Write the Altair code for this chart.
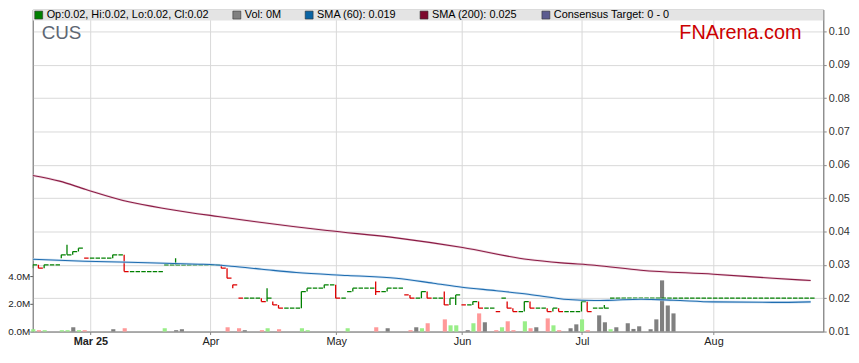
import altair as alt
import pandas as pd

# ---------------- data ----------------
FIRST_DATE = "2025-02-14"          # first trading day shown (index -1)

# daily close, one per weekday, from 2025-02-14 onward
CLOSE = [
    0.029, 0.030, 0.029, 0.030, 0.030, 0.030, 0.033, 0.033, 0.034, 0.035,   # -1..8
    0.032, 0.032, 0.032, 0.032, 0.032, 0.033, 0.033, 0.028, 0.028, 0.028,   # 9..18
    0.028, 0.028, 0.028, 0.028, 0.030, 0.030, 0.030, 0.030, 0.030, 0.030,   # 19..28
    0.030, 0.030, 0.030, 0.030, 0.029, 0.026, 0.024, 0.020, 0.020, 0.020,   # 29..38
    0.020, 0.019, 0.020, 0.018, 0.017, 0.017, 0.017, 0.017, 0.022, 0.023,   # 39..48
    0.023, 0.023, 0.024, 0.024, 0.020, 0.020, 0.022, 0.023, 0.023, 0.023,   # 49..58
    0.023, 0.022, 0.022, 0.023, 0.023, 0.023, 0.021, 0.020, 0.020, 0.022,   # 59..68
    0.020, 0.020, 0.020, 0.018, 0.020, 0.021, 0.018, 0.018, 0.019, 0.017,   # 69..78
    0.017, 0.017, 0.016, 0.020, 0.017, 0.016, 0.016, 0.019, 0.017, 0.017,   # 79..88
    0.017, 0.016, 0.017, 0.016, 0.016, 0.016, 0.016, 0.019, 0.016, 0.017,   # 89..98
    0.017, 0.017, 0.020, 0.020, 0.020, 0.020, 0.020, 0.020, 0.020, 0.020,   # 99..108
    0.020, 0.020, 0.020, 0.020, 0.020, 0.020, 0.020, 0.020, 0.020, 0.020,   # 109..118
    0.020, 0.020, 0.020, 0.020, 0.020, 0.020, 0.020, 0.020, 0.020, 0.020,   # 119..128
    0.020, 0.020, 0.020, 0.020, 0.020, 0.020, 0.020, 0.020,                 # 129..136
]

# intraday ranges (vertical strokes)
VERT_DAY = [0, 1, 2, 5, 6, 7, 8, 14, 16, 25, 33, 34, 35, 40, 41, 42, 43,
            47, 48, 51, 53, 56, 60, 62, 66, 68, 69, 72, 73, 74, 77, 78,
            83, 84, 86, 87, 90, 91, 92, 96, 97, 100]
VERT_LO = [0.029, 0.029, 0.029, 0.032, 0.033, 0.033, 0.034, 0.032, 0.028, 0.030,
           0.029, 0.026, 0.023, 0.019, 0.019, 0.018, 0.017,
           0.017, 0.022, 0.023, 0.020, 0.022, 0.021, 0.022, 0.020, 0.020, 0.020,
           0.018, 0.018, 0.018, 0.018, 0.017,
           0.017, 0.016, 0.016, 0.017, 0.016, 0.016, 0.016, 0.016, 0.016, 0.017]
VERT_HI = [0.030, 0.030, 0.030, 0.033, 0.036, 0.034, 0.035, 0.033, 0.033, 0.032,
           0.030, 0.029, 0.024, 0.020, 0.023, 0.019, 0.018,
           0.022, 0.023, 0.024, 0.024, 0.023, 0.025, 0.023, 0.021, 0.022, 0.022,
           0.022, 0.020, 0.021, 0.019, 0.019,
           0.019, 0.017, 0.019, 0.019, 0.017, 0.017, 0.017, 0.019, 0.019, 0.018]

# volume (millions) and direction: u = up, d = down, n = unchanged
VOL_DAY = [0, 1, 2, 5, 6, 7, 8, 9,
           14, 16, 23, 25, 26,
           34, 36, 37, 40, 41, 43,
           47, 48, 55, 60, 62,
           66, 67, 68, 69,
           72, 73, 74, 76, 77, 78, 79,
           81, 82, 83, 84, 86, 87, 88,
           90, 91, 92, 94, 95, 96, 97,
           99, 100, 101, 102,
           104, 105, 106, 108, 109, 110, 111, 112]
VOL_M = [0.17, 0.10, 0.10, 0.10, 0.10, 0.31, 0.10, 0.10,
         0.17, 0.24, 0.24, 0.10, 0.17,
         0.31, 0.24, 0.10, 0.10, 0.24, 0.17,
         0.24, 0.10, 0.24, 0.31, 0.24,
         0.10, 0.31, 0.24, 0.60,
         0.88, 0.45, 0.45, 0.10, 0.60, 1.31, 0.67,
         0.10, 0.31, 0.74, 0.10, 0.74, 0.24, 0.31,
         0.95, 0.45, 0.10, 0.24, 0.52, 0.88, 0.10,
         1.17, 0.67, 0.17, 0.31,
         0.60, 0.19, 0.38, 0.17, 0.88, 3.69, 1.88, 1.31]
VOL_DIR = ["u", "d", "u", "u", "u", "n", "u", "d",
           "n", "d", "u", "n", "n",
           "d", "d", "n", "d", "u", "d",
           "u", "u", "u", "d", "n",
           "d", "n", "u", "d",
           "d", "u", "u", "n", "u", "d", "n",
           "d", "u", "d", "d", "u", "d", "n",
           "d", "u", "d", "n", "n", "u", "d",
           "n", "n", "u", "n",
           "n", "n", "n", "n", "n", "n", "n", "n"]

SMA60_DAY = [-0.1, 9, 20, 29, 31, 34.6, 40, 46, 55, 63.5, 70, 75, 81, 86.6,
             93.6, 98.2, 100.5, 106.3, 112, 119, 129.4, 136]
SMA60_VAL = [0.0317, 0.0311, 0.03065, 0.0302, 0.0301, 0.0296, 0.0287, 0.0277,
             0.0268, 0.0260, 0.0245, 0.0233, 0.02225, 0.0212, 0.0196, 0.0193,
             0.01935, 0.0197, 0.0194, 0.0189, 0.01875, 0.0189]
SMA200_DAY = [-0.1, 4.6, 9.2, 16.7, 23.7, 32.3, 51.4, 63.5, 75.1, 86.6, 92.4,
              98.2, 106.3, 119, 129.4, 136]
SMA200_VAL = [0.0568, 0.0551, 0.0526, 0.0489, 0.0467, 0.0445, 0.0403, 0.0381,
              0.0352, 0.0316, 0.0306, 0.0299, 0.0284, 0.0272, 0.0260, 0.0253]

TICK_LABELS = ["Mar 25", "Apr", "May", "Jun", "Jul", "Aug"]
PRICE_TICKS = [0.01, 0.02, 0.03, 0.04, 0.05, 0.06, 0.07, 0.08, 0.09, 0.10]
VOL_TICKS = [0, 2000000, 4000000]

LEGEND_TEXT = ["Op:0.02, Hi:0.02, Lo:0.02, Cl:0.02", "Vol: 0M", "SMA (60): 0.019",
               "SMA (200): 0.025", "Consensus Target: 0 - 0"]
LEGEND_COLOR = ["#008000", "#808080", "#0a64a4", "#7d0a2e", "#5b5b8f"]
LEGEND_X = [2, 202, 275, 391, 514]

# ---------------- build tables ----------------
dates = pd.bdate_range(FIRST_DATE, periods=len(CLOSE))
days = list(range(-1, len(CLOSE) - 1))
tick_days, seen = [], set()
for d, t in zip(days, dates):
    if t >= pd.Timestamp("2025-03-01") and (t.year, t.month) not in seen:
        seen.add((t.year, t.month))
        tick_days.append(d)

dirs = []
for i, c in enumerate(CLOSE):
    dirs.append("dn" if i > 0 and c < CLOSE[i - 1] else "up")
price_df = pd.DataFrame({"day": days, "close": CLOSE, "dir": dirs})
price_df["x1"] = price_df["day"] - 0.1
price_df["x2"] = price_df["day"] + 0.68

dir_by_day = dict(zip(days, dirs))
vert_df = pd.DataFrame({"day": VERT_DAY, "lo": VERT_LO, "hi": VERT_HI})
vert_df["xv"] = vert_df["day"] - 0.1
vert_df["dir"] = [dir_by_day[d] for d in VERT_DAY]

vol_df = pd.DataFrame({"day": VOL_DAY, "vol": [v * 1e6 for v in VOL_M], "dir": VOL_DIR})
vol_df["x1"] = vol_df["day"] - 0.36
vol_df["x2"] = vol_df["day"] + 0.36
vol_df["zero"] = 0.0

sma60_df = pd.DataFrame({"day": SMA60_DAY, "v": SMA60_VAL})
sma200_df = pd.DataFrame({"day": SMA200_DAY, "v": SMA200_VAL})

# ---------------- chart ----------------
W, H = 798, 325
FONT = "Liberation Sans"
X_DOMAIN = [-0.087, 138.2]
P_DOMAIN = [0.01, 0.10653]
V_DOMAIN = [0, 23.21e6]

xs = alt.Scale(domain=X_DOMAIN, nice=False, zero=False)
ps = alt.Scale(domain=P_DOMAIN, nice=False, zero=False)
vs = alt.Scale(domain=V_DOMAIN, nice=False, zero=True)

label_expr = " : ".join(f"datum.value == {d} ? '{l}'" for d, l in zip(tick_days, TICK_LABELS)) + " : ''"
x_axis = alt.Axis(values=tick_days, labelExpr=label_expr, grid=True, gridColor="#d9d9d9",
                  domainColor="#888888", tickColor="#888888", tickSize=3, labelPadding=1,
                  labelFont=FONT, labelFontSize=11, labelColor="#222222",
                  labelFontWeight={"condition": {"test": f"datum.value == {tick_days[0]}", "value": "bold"},
                                   "value": "normal"},
                  labelFlush=False, labelOverlap=False, title=None)
price_axis = alt.Axis(orient="right", values=PRICE_TICKS, format=".2f", grid=True,
                      gridColor="#d9d9d9", domainColor="#888888", tickColor="#888888",
                      tickSize=3, labelPadding=2, labelFont=FONT, labelFontSize=11,
                      labelColor="#333333", labelFlush=False, title=None)
vol_axis = alt.Axis(orient="left", values=VOL_TICKS,
                    labelExpr="format(datum.value / 1000000, '.1f') + 'M'", grid=False,
                    domainColor="#888888", tickColor="#555555", tickSize=3, labelPadding=0,
                    labelFont=FONT, labelFontSize=10, labelColor="#222222",
                    labelFlush=False, title=None)

one = pd.DataFrame({"a": [0]})

band = alt.Chart(one).mark_rect(color="#e4e4e4").encode(
    x=alt.value(0), x2=alt.value(W), y=alt.value(0), y2=alt.value(11))

vol = alt.Chart(vol_df).mark_rect().encode(
    x=alt.X("x1:Q", scale=xs, axis=x_axis), x2="x2:Q",
    y=alt.Y("vol:Q", scale=vs, axis=vol_axis), y2="zero:Q",
    color=alt.Color("dir:N", scale=alt.Scale(domain=["u", "d", "n"],
                                             range=["#99ee88", "#ff9999", "#808080"]), legend=None))

pcol = alt.Color("dir:N", scale=alt.Scale(domain=["up", "dn"], range=["#008000", "#dd0000"]), legend=None)

dashes = alt.Chart(price_df).mark_rule(strokeWidth=1.3, clip=True).encode(
    x=alt.X("x1:Q", scale=xs, axis=x_axis), x2="x2:Q",
    y=alt.Y("close:Q", scale=ps, axis=price_axis), color=pcol)

verts = alt.Chart(vert_df).mark_rule(strokeWidth=1.3, clip=True).encode(
    x=alt.X("xv:Q", scale=xs, axis=x_axis),
    y=alt.Y("lo:Q", scale=ps, axis=None), y2="hi:Q", color=pcol)


def sma(df, color, width, opacity=1.0):
    return alt.Chart(df).mark_line(interpolate="monotone", clip=True, color=color,
                                   strokeWidth=width, opacity=opacity).encode(
        x=alt.X("day:Q", scale=xs, axis=x_axis), y=alt.Y("v:Q", scale=ps, axis=None))


layers = [band, vol, dashes, verts,
          sma(sma200_df, "#e2bccb", 2.4, 0.6), sma(sma200_df, "#8b1c45", 1.1),
          sma(sma60_df, "#c3daef", 2.6, 0.7), sma(sma60_df, "#1f6db0", 1.1)]

layers.append(alt.Chart(one).mark_text(text="CUS", font=FONT, fontSize=19, color="#5d6773",
                                       align="left", baseline="middle").encode(
    x=alt.value(9), y=alt.value(24)))
layers.append(alt.Chart(one).mark_text(text="FNArena.com", font=FONT, fontSize=20, color="#cc0000",
                                       align="right", baseline="middle").encode(
    x=alt.value(776), y=alt.value(24)))

for txt, col, lx in zip(LEGEND_TEXT, LEGEND_COLOR, LEGEND_X):
    layers.append(alt.Chart(one).mark_rect(color=col, stroke="#333333", strokeWidth=0.6).encode(
        x=alt.value(lx), x2=alt.value(lx + 8), y=alt.value(1.5), y2=alt.value(9.5)))
    layers.append(alt.Chart(one).mark_text(text=txt, font=FONT, fontSize=11, color="#000000",
                                           align="left", baseline="middle").encode(
        x=alt.value(lx + 12), y=alt.value(5.5)))

chart = alt.layer(*layers).resolve_scale(y="independent", color="independent").properties(
    width=W, height=H, autosize="none",
    padding={"left": 25, "top": 0, "right": 28, "bottom": 20},
).configure_view(stroke="#8a8a8a", strokeWidth=1)

chart.save("out.html", embed_options={"renderer": "svg", "actions": False})
